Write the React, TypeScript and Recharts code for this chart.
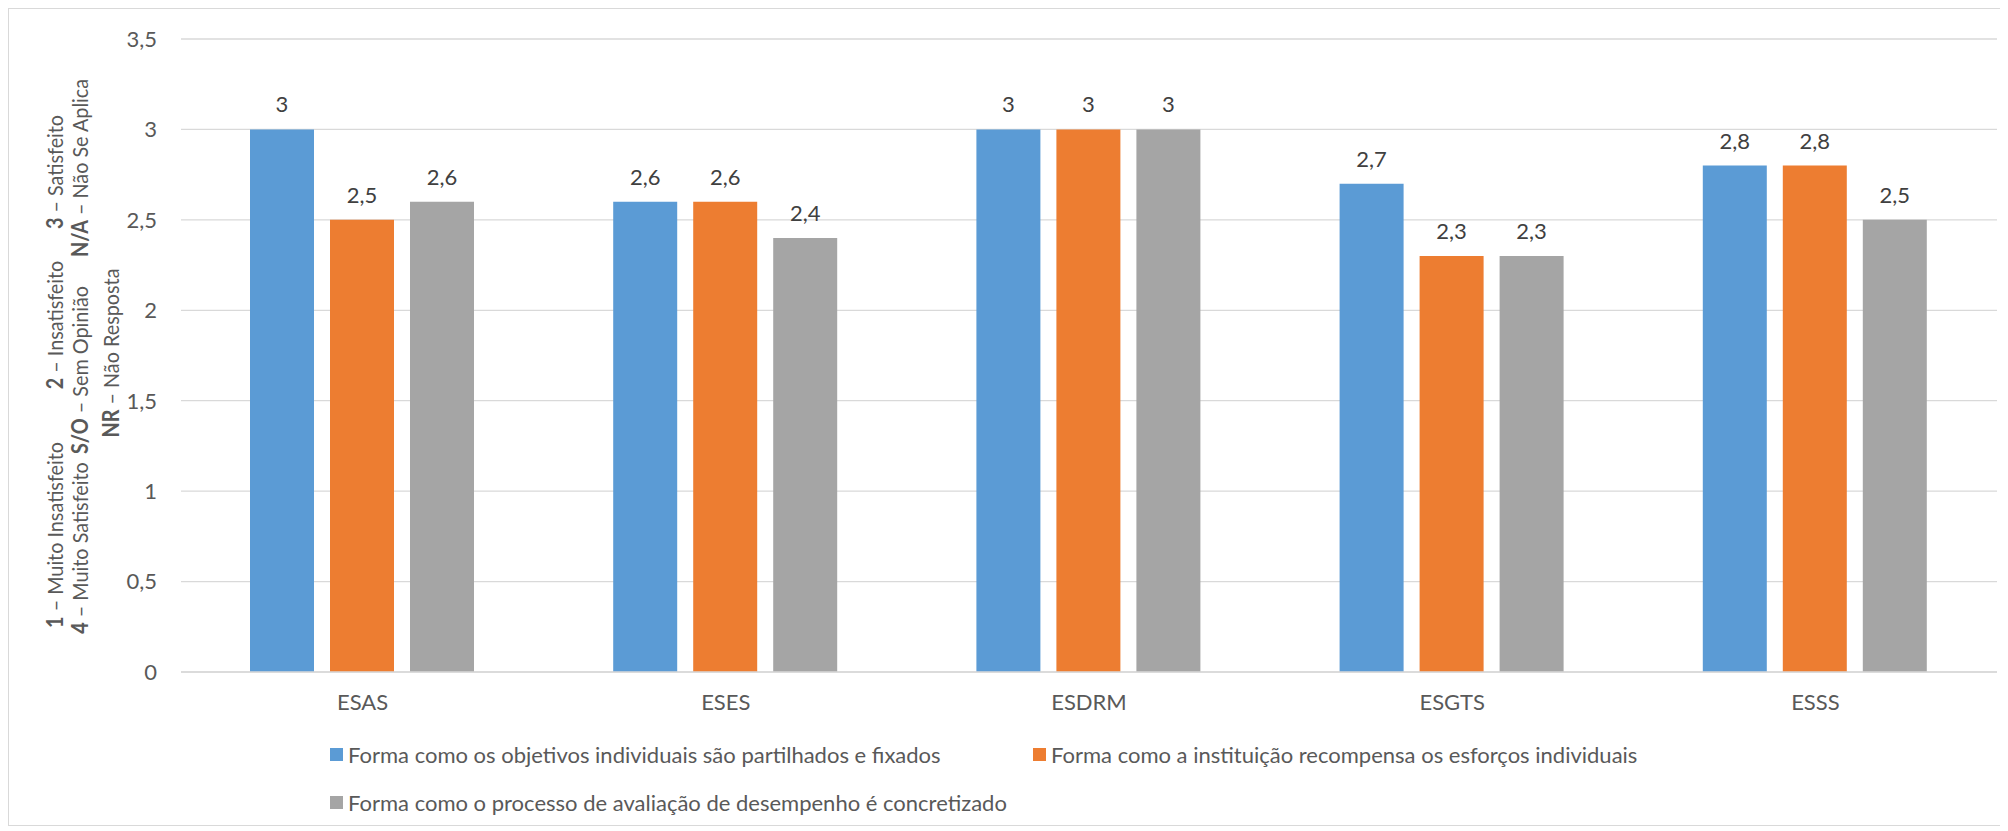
import React from 'react';
import { BarChart, Bar, XAxis, YAxis, CartesianGrid, LabelList } from 'recharts';

const categories = ['ESAS', 'ESES', 'ESDRM', 'ESGTS', 'ESSS'];
const objetivos = [3, 2.6, 3, 2.7, 2.8];
const recompensa = [2.5, 2.6, 3, 2.3, 2.8];
const avaliacao = [2.6, 2.4, 3, 2.3, 2.5];
const seriesKeys = ['objetivos', 'recompensa', 'avaliacao'];
const seriesNames = [
  'Forma como os objetivos individuais são partilhados e fixados',
  'Forma como a instituição recompensa os esforços individuais',
  'Forma como o processo de avaliação de desempenho é concretizado',
];
const seriesColors = ['#5B9BD5', '#ED7D31', '#A5A5A5'];
const yTicks = [0, 0.5, 1, 1.5, 2, 2.5, 3, 3.5];

// scale description (rotated), [bold part, rest]
const scaleCol1 = [
  ['1', ' – Muito Insatisfeito'],
  ['2', ' – Insatisfeito'],
  ['3', ' – Satisfeito'],
];
const scaleCol2 = [
  ['4', ' – Muito Satisfeito'],
  ['S/O', ' – Sem Opinião'],
  ['N/A', ' – Não Se Aplica'],
];
const scaleCol3 = [['NR', ' – Não Resposta']];

const data = categories.map((c, i) => ({
  name: c,
  objetivos: objetivos[i],
  recompensa: recompensa[i],
  avaliacao: avaliacao[i],
}));

const fmt = (v: number) => String(v).replace('.', ',');

const FONT = 'Lato, "Open Sans", sans-serif';

// layout positions (wrapper-relative), segment centres
const colX = [45, 70, 101];
const colCenters = [
  [526, 316, 163],
  [539, 361, 159],
  [344],
];

function ScaleText({ x, y, parts }: { x: number; y: number; parts: string[] }) {
  return (
    <text
      transform={`translate(${x},${y}) rotate(-90) scale(0.9,1)`}
      fontSize={22}
      fill="#595959"
      dominantBaseline="central"
      textAnchor="middle"
    >
      <tspan fontWeight="bold">{parts[0]}</tspan>
      <tspan>{parts[1]}</tspan>
    </text>
  );
}

export default function App() {
  const cols = [scaleCol1, scaleCol2, scaleCol3];
  return (
    <div
      style={{
        position: 'relative',
        width: 2000,
        height: 818,
        border: '1px solid #D9D9D9',
        boxSizing: 'border-box',
        fontFamily: FONT,
        background: '#fff',
      }}
    >
      <div style={{ position: 'absolute', left: 0, top: 0 }}>
        <BarChart
          width={1998}
          height={816}
          data={data}
          margin={{ top: 30, right: 10, left: 0, bottom: 93 }}
          barCategoryGap={69}
          barGap={16}
        >
          <CartesianGrid vertical={false} stroke="#D9D9D9" strokeWidth={1.3} />
          <XAxis
            dataKey="name"
            height={60}
            tickLine={false}
            axisLine={{ stroke: '#D9D9D9', strokeWidth: 1.5 }}
            tickSize={0}
            tickMargin={22}
            tick={{ fill: '#595959', fontSize: 22 }}
          />
          <YAxis
            width={172}
            domain={[0, 3.5]}
            ticks={yTicks}
            axisLine={false}
            tickLine={false}
            tickSize={0}
            tickMargin={24}
            tickFormatter={fmt}
            tick={{ fill: '#595959', fontSize: 22 }}
          />
          {seriesKeys.map((k, i) => (
            <Bar key={k} dataKey={k} name={seriesNames[i]} fill={seriesColors[i]} isAnimationActive={false}>
              <LabelList dataKey={k} position="top" offset={17} fill="#404040" fontSize={22} formatter={fmt} />
            </Bar>
          ))}
        </BarChart>
      </div>
      <svg
        width={140}
        height={700}
        style={{ position: 'absolute', left: 0, top: 0, overflow: 'visible' }}
      >
        {cols.map((col, ci) =>
          col.map((parts, si) => (
            <ScaleText key={`${ci}-${si}`} x={colX[ci]} y={colCenters[ci][si]} parts={parts} />
          ))
        )}
      </svg>
      {[
        [0, 1],
        [2],
      ].map((row, ri) => (
        <div
          key={ri}
          style={{
            position: 'absolute',
            left: 321,
            top: ri === 0 ? 731 : 779,
            display: 'flex',
            alignItems: 'center',
            height: 28,
            fontSize: 22,
            color: '#595959',
          }}
        >
          {row.map((si) => (
            <div
              key={si}
              style={{ display: 'flex', alignItems: 'center', width: si === 0 ? 703 : undefined }}
            >
              <span
                style={{
                  display: 'inline-block',
                  width: 13,
                  height: 13,
                  background: seriesColors[si],
                  marginRight: 5,
                }}
              />
              <span>{seriesNames[si]}</span>
            </div>
          ))}
        </div>
      ))}
    </div>
  );
}
